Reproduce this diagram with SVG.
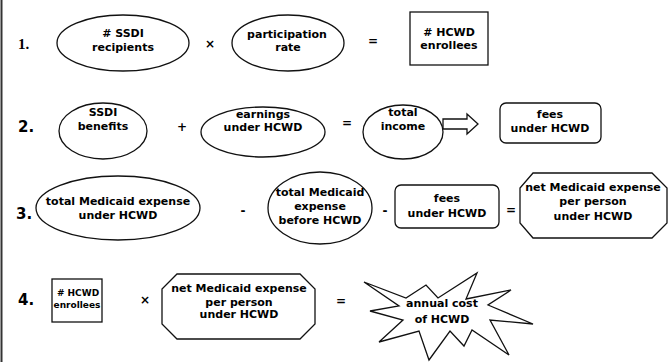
<svg xmlns="http://www.w3.org/2000/svg" width="670" height="362" viewBox="0 0 670 362">
<style>
.sh{fill:#fff;stroke:#111;stroke-width:1.3}
.t{font-family:"DejaVu Sans",sans-serif;font-weight:bold;font-size:11px;fill:#000;text-anchor:middle}
.s{font-size:9px}
.num{font-family:"DejaVu Sans",sans-serif;font-weight:bold;font-size:15px;fill:#000}
.op{font-family:"DejaVu Sans",sans-serif;font-weight:bold;font-size:12px;fill:#000;text-anchor:middle}
</style>
<rect width="670" height="362" fill="#fff"/>
<line x1="1.5" y1="0" x2="1.5" y2="362" stroke="#333" stroke-width="2"/>
<g id="labels">
<text class="num" x="18" y="49" style="font-family:'Liberation Serif',serif">1.</text>
<text class="num" x="18" y="132">2.</text>
<text class="num" x="16" y="219">3.</text>
<text class="num" x="18" y="305">4.</text>
</g>
<g id="operators">
<text class="op" x="210" y="48">×</text>
<text class="op" x="373" y="45">=</text>
<text class="op" x="182" y="131">+</text>
<text class="op" x="347" y="127">=</text>
<text class="op" x="243" y="215">-</text>
<text class="op" x="385" y="215">-</text>
<text class="op" x="511" y="214">=</text>
<text class="op" x="145" y="304">×</text>
<text class="op" x="341" y="305">=</text>
</g>
<g id="connectors">
<polygon class="sh" points="443,119 467,119 467,114 478,124 467,134 467,129 443,129"/>
</g>
<g id="n-ssdi-recipients">
<ellipse class="sh" cx="123" cy="43" rx="66" ry="28"/>
<text class="t" x="123" y="37"># SSDI</text>
<text class="t" x="123" y="51">recipients</text>
</g>
<g id="n-participation-rate">
<ellipse class="sh" cx="288" cy="43" rx="56" ry="28"/>
<text class="t" x="287" y="38">participation</text>
<text class="t" x="288" y="51">rate</text>
</g>
<g id="n-hcwd-enrollees-1">
<rect class="sh" x="410" y="12" width="78" height="53"/>
<text class="t" x="449" y="36"># HCWD</text>
<text class="t" x="449" y="49">enrollees</text>
</g>
<g id="n-ssdi-benefits">
<ellipse class="sh" cx="103" cy="131" rx="44" ry="28"/>
<text class="t" x="103" y="116">SSDI</text>
<text class="t" x="103" y="130">benefits</text>
</g>
<g id="n-earnings">
<ellipse class="sh" cx="263" cy="132" rx="62" ry="25"/>
<text class="t" x="263" y="118">earnings</text>
<text class="t" x="263" y="131">under HCWD</text>
</g>
<g id="n-total-income">
<ellipse class="sh" cx="403" cy="132" rx="40" ry="27"/>
<text class="t" x="403" y="116">total</text>
<text class="t" x="403" y="130">income</text>
</g>
<g id="n-fees-2">
<rect class="sh" x="500" y="103" width="101" height="40" rx="6"/>
<text class="t" x="550" y="118">fees</text>
<text class="t" x="550" y="132">under HCWD</text>
</g>
<g id="n-total-under">
<ellipse class="sh" cx="118" cy="208" rx="82" ry="32"/>
<text class="t" x="118" y="205">total Medicaid expense</text>
<text class="t" x="118" y="219">under HCWD</text>
</g>
<g id="n-total-before">
<ellipse class="sh" cx="320" cy="208" rx="52" ry="36"/>
<text class="t" x="320" y="196">total Medicaid</text>
<text class="t" x="320" y="210">expense</text>
<text class="t" x="320" y="224">before HCWD</text>
</g>
<g id="n-fees-3">
<rect class="sh" x="395" y="185" width="104" height="43" rx="6"/>
<text class="t" x="447" y="202">fees</text>
<text class="t" x="447" y="217">under HCWD</text>
</g>
<g id="n-net-3">
<polygon class="sh" points="533,173 652,173 667,188 667,223 652,238 533,238 520,223 520,188"/>
<text class="t" x="593" y="191">net Medicaid expense</text>
<text class="t" x="593" y="205">per person</text>
<text class="t" x="593" y="220">under HCWD</text>
</g>
<g id="n-hcwd-enrollees-4">
<rect class="sh" x="52" y="279" width="50" height="43"/>
<text class="t s" x="78" y="296"># HCWD</text>
<text class="t s" x="77" y="308">enrollees</text>
</g>
<g id="n-net-4">
<polygon class="sh" points="177,274 300,274 315,289 315,324 300,339 177,339 162,324 162,289"/>
<text class="t" x="239" y="292">net Medicaid expense</text>
<text class="t" x="239" y="306">per person</text>
<text class="t" x="239" y="318">under HCWD</text>
</g>
<g id="n-annual-cost">
<polygon class="sh" points="364,282 406,298 426,285 438,298 477,273 466,299 511,290 488,305 533,324 490,320 509,355 472,330 464,346 450,331 429,360 419,331 379,342 403,320 370,311 399,306"/>
<text class="t" x="442" y="307">annual cost</text>
<text class="t" x="442" y="323">of HCWD</text>
</g>
</svg>
